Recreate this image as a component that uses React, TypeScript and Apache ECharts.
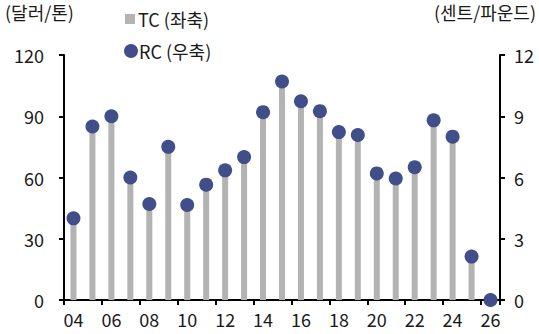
import React, { useEffect, useRef } from "react";
import * as echarts from "echarts";

// Years (2004–2026), shown as two-digit labels
const years = [
  "04", "05", "06", "07", "08", "09", "10", "11", "12", "13", "14", "15",
  "16", "17", "18", "19", "20", "21", "22", "23", "24", "25", "26",
];

// Treatment charge, USD per tonne (left axis)
const tcValues = [
  40, 85, 90, 60, 47, 75, 46.5, 56.5, 63.5, 70, 92, 107,
  97.35, 92.5, 82.25, 80.8, 62, 59.5, 65, 88, 80, 21.25, 0,
];

// Refining charge, US cents per pound (right axis)
const rcValues = [
  4.0, 8.5, 9.0, 6.0, 4.7, 7.5, 4.65, 5.65, 6.35, 7.0, 9.2, 10.7,
  9.735, 9.25, 8.225, 8.08, 6.2, 5.95, 6.5, 8.8, 8.0, 2.125, 0,
];

const leftTicks = { min: 0, max: 120, interval: 30 };
const rightTicks = { min: 0, max: 12, interval: 3 };

const FONT = "'Noto Sans CJK KR', 'Noto Sans', sans-serif";
const TEXT = "#1a1a1a";
const BAR = "#b3b3b3";
const DOT = "#404e8a";

export default function App() {
  const ref = useRef<HTMLDivElement>(null);

  useEffect(() => {
    if (!ref.current) return;
    const chart = echarts.init(ref.current, undefined, { renderer: "svg" });

    const axisLine = { show: true, lineStyle: { color: "#000", width: 2 } };
    const axisTick = { show: true, length: 5, lineStyle: { color: "#000", width: 2 } };
    const label = { color: TEXT, fontSize: 18, fontFamily: FONT };

    chart.setOption({
      animation: false,
      backgroundColor: "#fff",
      textStyle: { fontFamily: FONT },
      grid: { left: 64, right: 39, top: 55, bottom: 34, containLabel: false },
      legend: [
        {
          data: [{ name: "TC (좌축)", icon: "rect" }],
          left: 120,
          top: 5,
          itemWidth: 10,
          itemHeight: 10,
          itemGap: 0,
          textStyle: { ...label, padding: [0, 0, 0, -2] },
        },
        {
          data: [{ name: "RC (우축)", icon: "circle" }],
          left: 119,
          top: 37,
          itemWidth: 14,
          itemHeight: 14,
          textStyle: { ...label, padding: [0, 0, 0, -4] },
        },
      ],
      graphic: [
        {
          type: "text",
          left: 5,
          top: 3,
          style: { text: "(달러/톤)", fill: TEXT, font: `18px ${FONT}` },
        },
        {
          type: "text",
          right: 3,
          top: 3,
          style: { text: "(센트/파운드)", fill: TEXT, font: `18px ${FONT}` },
        },
      ],
      xAxis: {
        type: "category",
        data: years,
        boundaryGap: true,
        axisLine,
        axisTick: { ...axisTick, interval: 1 },
        axisLabel: { ...label, interval: 1, margin: 10 },
        splitLine: { show: false },
      },
      yAxis: [
        {
          type: "value",
          position: "left",
          ...leftTicks,
          axisLine,
          axisTick,
          axisLabel: { ...label, margin: 20 },
          splitLine: { show: false },
        },
        {
          type: "value",
          position: "right",
          ...rightTicks,
          axisLine,
          axisTick,
          axisLabel: { ...label, margin: 14 },
          splitLine: { show: false },
        },
      ],
      series: [
        {
          name: "TC (좌축)",
          type: "bar",
          yAxisIndex: 0,
          data: tcValues,
          barWidth: 6,
          itemStyle: { color: BAR },
          z: 2,
        },
        {
          name: "RC (우축)",
          type: "scatter",
          yAxisIndex: 1,
          data: rcValues,
          symbol: "circle",
          symbolSize: 14,
          itemStyle: { color: DOT, opacity: 1 },
          z: 5,
        },
      ],
    });

    return () => chart.dispose();
  }, []);

  return (
    <div
      ref={ref}
      style={{ position: "fixed", left: 0, top: 0, width: 539, height: 334 }}
    />
  );
}
